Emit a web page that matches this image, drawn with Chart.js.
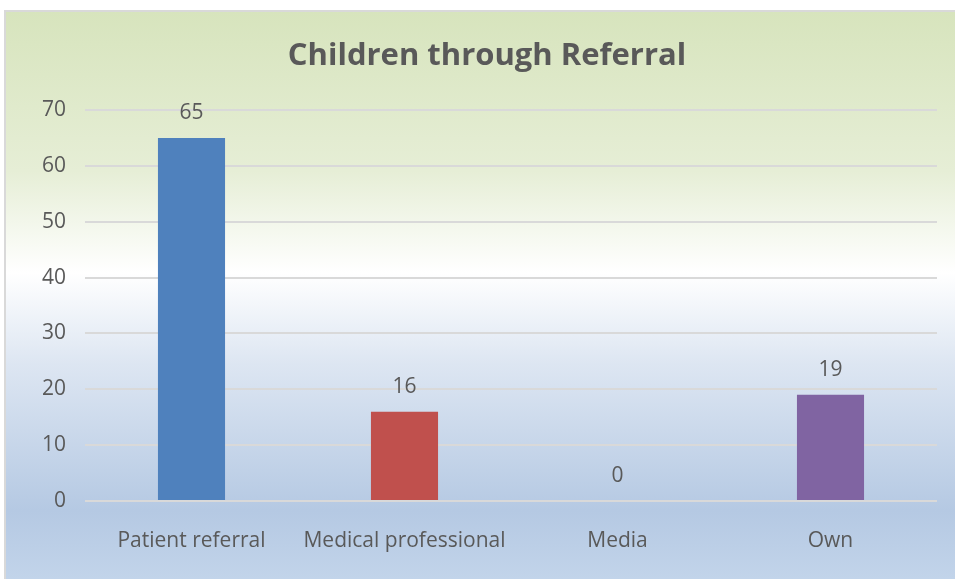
<!DOCTYPE html>
<html>
<head>
<meta charset="utf-8">
<script src="https://cdn.jsdelivr.net/npm/chart.js@4"></script>
<style>
  html, body { margin: 0; padding: 0; background: #fff; }
  #box {
    position: absolute; left: 4px; top: 10px; width: 949px; height: 567px;
    border: 2px solid #d9d9d9; border-bottom: none; border-right: none;
    background: linear-gradient(to bottom, #d7e4bd 0%, #e6eed6 28%, #ffffff 46%, #dde6f2 62%, #b5c9e3 88%, #c2d4ea 100%);
  }
</style>
</head>
<body>
<div id="box"><canvas id="chart" width="949" height="567"></canvas></div>
<script>
var categories = ['Patient referral', 'Medical professional', 'Media', 'Own'];
var counts = [65, 16, 0, 19];
var barColors = ['#4f81bd', '#c0504d', '#9bbb59', '#8064a2'];
var yTicks = [0, 10, 20, 30, 40, 50, 60, 70];
var chartTitle = 'Children through Referral';

var fontName = "'Open Sans', 'Liberation Sans', sans-serif";
var textColor = '#595959';

// title sits a bit left of the plot centre, so draw it by hand
var titlePlugin = {
  id: 'titlePlugin',
  afterDraw: function (chart) {
    var ctx = chart.ctx;
    ctx.save();
    ctx.font = 'bold 31px ' + fontName;
    ctx.fillStyle = textColor;
    ctx.textAlign = 'center';
    ctx.textBaseline = 'middle';
    ctx.fillText(chartTitle, 481, 44);
    ctx.restore();
  }
};

// draws the number above every bar
var valueLabels = {
  id: 'valueLabels',
  afterDatasetsDraw: function (chart) {
    var ctx = chart.ctx;
    var meta = chart.getDatasetMeta(0);
    ctx.save();
    ctx.font = '21px ' + fontName;
    ctx.fillStyle = textColor;
    ctx.textAlign = 'center';
    ctx.textBaseline = 'middle';
    meta.data.forEach(function (bar, i) {
      ctx.fillText(String(counts[i]), bar.x, bar.y - 25);
    });
    ctx.restore();
  }
};

var ctx = document.getElementById('chart');
var myChart = new Chart(ctx, {
  type: 'bar',
  data: {
    labels: categories,
    datasets: [{
      data: counts,
      backgroundColor: barColors,
      borderWidth: 0,
      categoryPercentage: 1,
      barPercentage: 0.315
    }]
  },
  options: {
    responsive: false,
    animation: false,
    layout: { padding: { left: 0, right: 18, top: 98, bottom: 0 } },
    plugins: {
      legend: { display: false },
      tooltip: { enabled: false },
      title: { display: false }
    },
    scales: {
      x: {
        grid: { display: false, drawTicks: false },
        border: { display: false },
        ticks: {
          color: textColor,
          font: { family: fontName, size: 21 },
          padding: 27
        },
        afterFit: function (scale) { scale.height = 78; }
      },
      y: {
        min: 0,
        max: 70,
        afterBuildTicks: function (scale) {
          scale.ticks = yTicks.map(function (v) { return { value: v }; });
        },
        grid: { color: '#d9d9d9', lineWidth: 2, drawTicks: false },
        border: { display: false },
        ticks: {
          color: textColor,
          font: { family: fontName, size: 21 },
          padding: 19
        },
        afterFit: function (scale) { scale.width = 79; }
      }
    }
  },
  plugins: [valueLabels, titlePlugin]
});
</script>
</body>
</html>
